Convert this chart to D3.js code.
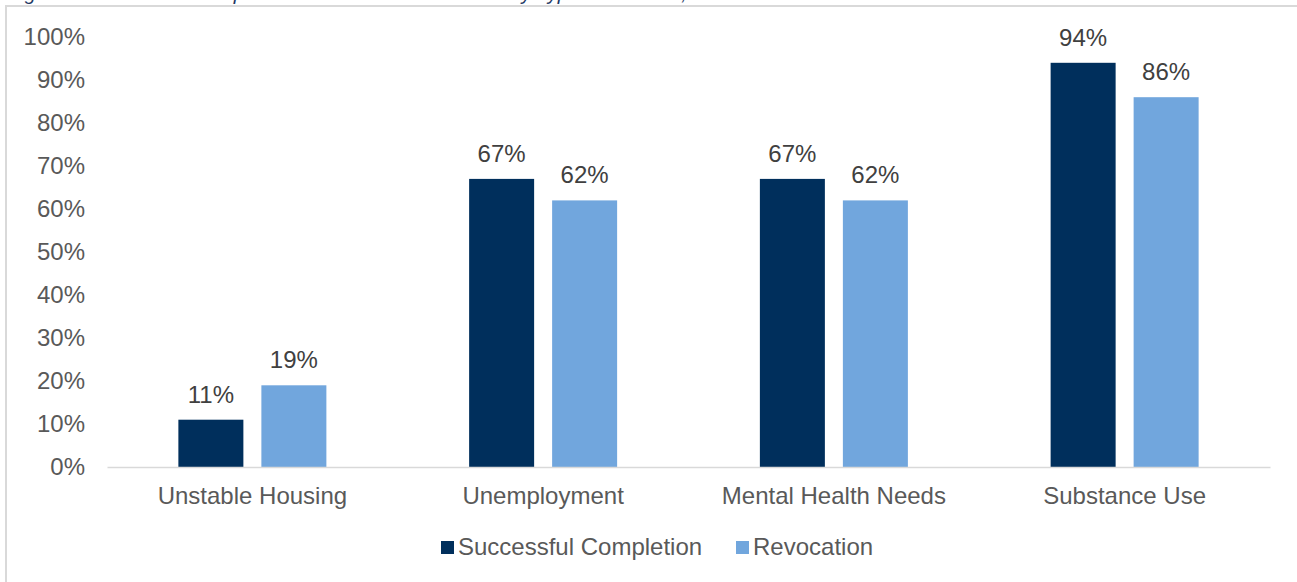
<!DOCTYPE html>
<html>
<head>
<meta charset="utf-8">
<script src="https://cdn.jsdelivr.net/npm/d3@7"></script>
<style>
  html, body { margin: 0; padding: 0; background: #fff; overflow: hidden; }
  svg { display: block; font-family: "Liberation Sans", Arial, sans-serif; }
</style>
</head>
<body>
<svg id="chart" width="1297" height="582"></svg>
<script>
const categories = ["Unstable Housing", "Unemployment", "Mental Health Needs", "Substance Use"];
const seriesNames = ["Successful Completion", "Revocation"];
const successfulCompletion = [11, 67, 67, 94];
const revocation = [19, 62, 62, 86];
const yTicks = [0, 10, 20, 30, 40, 50, 60, 70, 80, 90, 100];
const colors = ["#002F5C", "#71A6DD"];
const titleText = "Figure 4. Risk Factors Supervision Clients Had at Intake by Type of Release, Fiscal Year 2019";

const seriesValues = [successfulCompletion, revocation];
const data = categories.map((c, i) => ({
  category: c,
  values: seriesNames.map((s, j) => ({ series: s, value: seriesValues[j][i] }))
}));

const FS = 24;
const svg = d3.select("#chart");
const plot = { left: 107, right: 1270, top: 37, bottom: 467 };

// clipped title (only descenders visible, as in the reference)
svg.append("text")
  .attr("x", 8).attr("y", 0)
  .attr("font-size", 20).attr("font-style", "italic")
  .attr("fill", "#1F3864")
  .text(titleText);

// chart frame
svg.append("rect")
  .attr("x", 6).attr("y", 6)
  .attr("width", 1400).attr("height", 700)
  .attr("fill", "#fff").attr("stroke", "#d9d9d9").attr("stroke-width", 2);

const x0 = d3.scaleBand().domain(categories).range([plot.left, plot.right]).paddingInner(0).paddingOuter(0);
const y = d3.scaleLinear().domain([0, 100]).range([plot.bottom, plot.top]);

const groupWidth = 148;
const x1 = d3.scaleBand().domain(seriesNames)
  .range([x0.bandwidth() / 2 - groupWidth / 2, x0.bandwidth() / 2 + groupWidth / 2])
  .paddingInner(18 / 83).paddingOuter(0);
const color = d3.scaleOrdinal().domain(seriesNames).range(colors);

// y axis
const yAxis = d3.axisLeft(y).tickValues(yTicks).tickFormat(d => d + "%").tickSize(0).tickPadding(22);
const gy = svg.append("g").attr("transform", `translate(${plot.left},0)`).call(yAxis);
gy.select(".domain").remove();
gy.selectAll("text").attr("font-size", FS).attr("fill", "#595959")
  .attr("font-family", '"Liberation Sans", Arial, sans-serif');

// bars
const groups = svg.append("g").selectAll("g").data(data).join("g")
  .attr("transform", d => `translate(${x0(d.category)},0)`);

groups.selectAll("rect").data(d => d.values).join("rect")
  .attr("x", d => x1(d.series))
  .attr("y", d => y(d.value))
  .attr("width", x1.bandwidth())
  .attr("height", d => y(0) - y(d.value))
  .attr("fill", d => color(d.series));

groups.selectAll("text.lbl").data(d => d.values).join("text")
  .attr("class", "lbl")
  .attr("x", d => x1(d.series) + x1.bandwidth() / 2)
  .attr("y", d => y(d.value) - 17)
  .attr("text-anchor", "middle")
  .attr("font-size", FS).attr("fill", "#404040")
  .text(d => d.value + "%");

// x axis
const xAxis = d3.axisBottom(x0).tickSize(0).tickPadding(20);
const gx = svg.append("g").attr("transform", `translate(0,${plot.bottom})`).call(xAxis);
gx.select(".domain").attr("stroke", "#d9d9d9").attr("stroke-width", 1.5);
gx.selectAll("text").attr("font-size", FS).attr("fill", "#595959")
  .attr("font-family", '"Liberation Sans", Arial, sans-serif');

// legend
const legendItems = [{ name: seriesNames[0], x: 441 }, { name: seriesNames[1], x: 736 }];
const lg = svg.append("g").selectAll("g").data(legendItems).join("g")
  .attr("transform", d => `translate(${d.x},541)`);
lg.append("rect").attr("width", 13).attr("height", 13).attr("fill", d => color(d.name));
lg.append("text").attr("x", 17).attr("y", 14)
  .attr("font-size", FS).attr("fill", "#595959")
  .text(d => d.name);
</script>
</body>
</html>
